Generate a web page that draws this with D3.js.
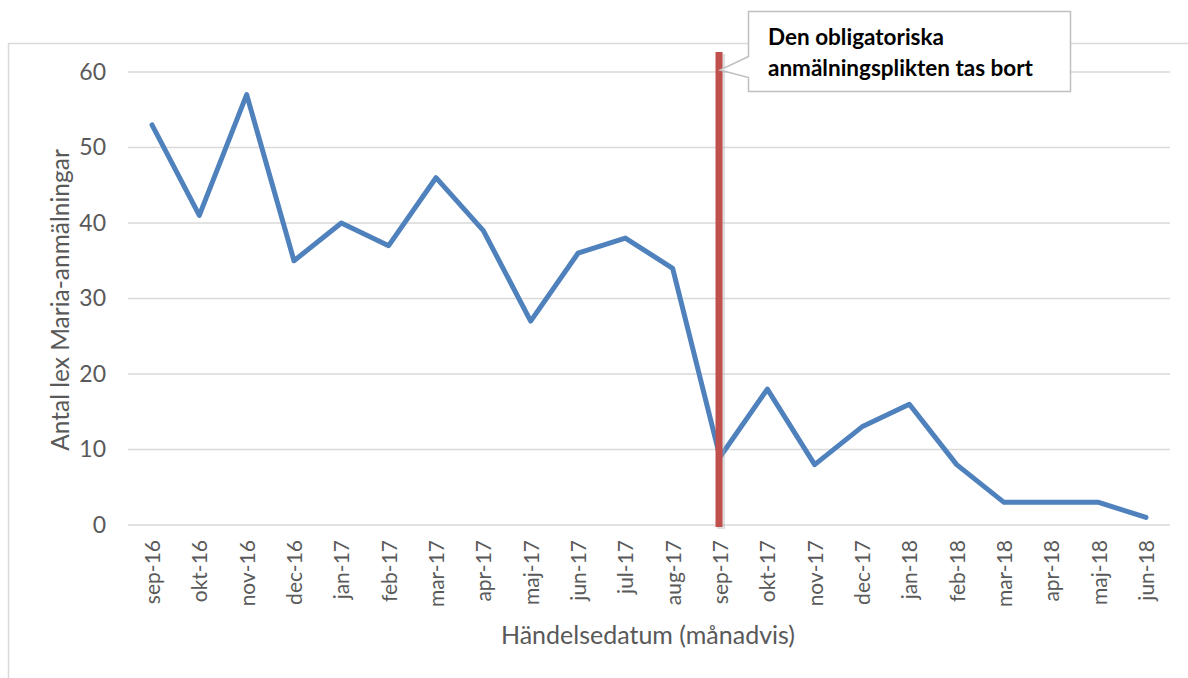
<!DOCTYPE html>
<html>
<head>
<meta charset="utf-8">
<script src="https://cdn.jsdelivr.net/npm/d3@7"></script>
<style>
  body { margin: 0; background: #fff; }
  svg text { font-family: Lato, "Open Sans", sans-serif; }
</style>
</head>
<body>
<script>
var months = ["sep-16", "okt-16", "nov-16", "dec-16", "jan-17", "feb-17", "mar-17", "apr-17",
              "maj-17", "jun-17", "jul-17", "aug-17", "sep-17", "okt-17", "nov-17", "dec-17",
              "jan-18", "feb-18", "mar-18", "apr-18", "maj-18", "jun-18"];
var reports = [53, 41, 57, 35, 40, 37, 46, 39, 27, 36, 38, 34, 9, 18, 8, 13, 16, 8, 3, 3, 3, 1];
var yTicks = [0, 10, 20, 30, 40, 50, 60];
var markerMonth = "sep-17";
var noteLines = ["Den obligatoriska", "anmälningsplikten tas bort"];

var width = 1188, height = 678;
var margin = {left: 128, right: 18, top: 72, bottom: 153};

var svg = d3.select("body").append("svg")
    .attr("width", width)
    .attr("height", height);

// chart frame
svg.append("rect")
    .attr("x", 8.5).attr("y", 43.5)
    .attr("width", width + 20).attr("height", height)
    .attr("fill", "none")
    .attr("stroke", "#d9d9d9")
    .attr("stroke-width", 1.5);

var x = d3.scalePoint()
    .domain(months)
    .range([margin.left + 24, width - margin.right - 24]);

var y = d3.scaleLinear()
    .domain([0, 60])
    .range([height - margin.bottom, margin.top]);

// gridlines
svg.append("g")
    .selectAll("line")
    .data(yTicks)
    .enter().append("line")
    .attr("x1", margin.left)
    .attr("x2", width - margin.right)
    .attr("y1", function(d) { return y(d); })
    .attr("y2", function(d) { return y(d); })
    .attr("stroke", "#d9d9d9")
    .attr("stroke-width", 1.5);

// y axis labels
var yAx = svg.append("g")
    .attr("transform", "translate(" + margin.left + ",0)")
    .call(d3.axisLeft(y).tickValues(yTicks).tickSize(0).tickPadding(22));
yAx.select(".domain").remove();
yAx.selectAll("text")
    .attr("fill", "#595959")
    .style("font-size", "23px");

// x axis labels
var xAx = svg.append("g")
    .attr("transform", "translate(0," + y(0) + ")")
    .call(d3.axisBottom(x).tickSize(0));
xAx.select(".domain").remove();
xAx.selectAll("text")
    .attr("fill", "#595959")
    .style("font-size", "21px")
    .attr("text-anchor", "end")
    .attr("transform", "rotate(-90)")
    .attr("x", -15)
    .attr("y", 0)
    .attr("dy", "0.35em");

// axis titles
svg.append("text")
    .attr("x", 648)
    .attr("y", 644)
    .attr("text-anchor", "middle")
    .attr("fill", "#595959")
    .style("font-size", "25px")
    .text("Händelsedatum (månadvis)");

svg.append("text")
    .attr("transform", "translate(69,300) rotate(-90)")
    .attr("text-anchor", "middle")
    .attr("fill", "#595959")
    .style("font-size", "24.5px")
    .text("Antal lex Maria-anmälningar");

// data line
var line = d3.line()
    .x(function(d, i) { return x(months[i]); })
    .y(function(d) { return y(d); });

svg.append("path")
    .datum(reports)
    .attr("d", line)
    .attr("fill", "none")
    .attr("stroke", "#4f81bd")
    .attr("stroke-width", 5)
    .attr("stroke-linejoin", "round")
    .attr("stroke-linecap", "round");

// marker line
var mx = x(markerMonth);
svg.append("line")
    .attr("x1", mx + 1).attr("x2", mx + 1)
    .attr("y1", 54).attr("y2", y(0) + 4)
    .attr("stroke", "#b0b0b0")
    .attr("stroke-opacity", 0.4)
    .attr("stroke-width", 8);
svg.append("line")
    .attr("x1", mx - 1).attr("x2", mx - 1)
    .attr("y1", 52).attr("y2", y(0) + 2)
    .attr("stroke", "#c0504d")
    .attr("stroke-width", 7);

// callout
var bx = 748.5, by = 11.5, bw = 322, bh = 80;
var tipX = mx, tipY = 70;
svg.append("path")
    .attr("d", "M" + bx + "," + by + " H" + (bx + bw) + " V" + (by + bh) + " H" + bx +
        " V" + (by + 66) + " L" + tipX + "," + tipY + " L" + bx + "," + (by + 45) + " Z")
    .attr("fill", "#fff")
    .attr("stroke", "#bfbfbf")
    .attr("stroke-width", 1.5);

svg.append("g")
    .selectAll("text")
    .data(noteLines)
    .enter().append("text")
    .attr("x", 768)
    .attr("y", function(d, i) { return 45 + i * 31; })
    .attr("fill", "#000")
    .style("font-size", "22.5px")
    .style("font-weight", "bold")
    .text(function(d) { return d; });
</script>
</body>
</html>
